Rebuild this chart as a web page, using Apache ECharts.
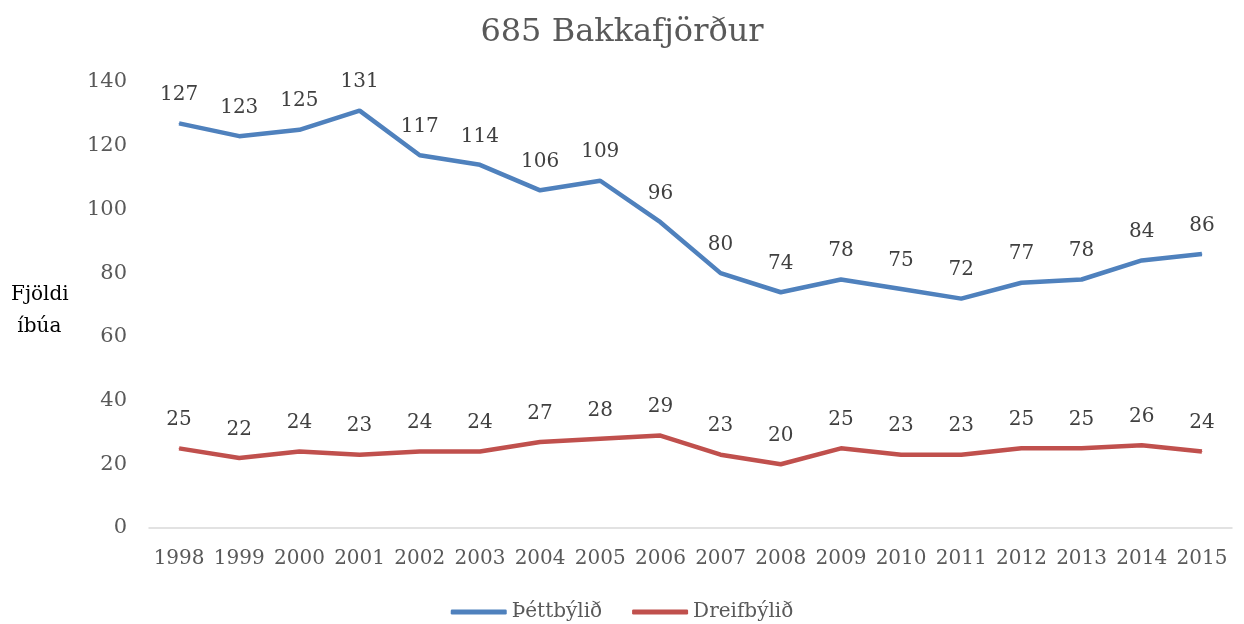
<!DOCTYPE html>
<html>
<head>
<meta charset="utf-8">
<script src="https://cdn.jsdelivr.net/npm/echarts@6/dist/echarts.min.js"></script>
<style>
  html, body { margin: 0; padding: 0; background: #fff; }
  #main { width: 1244px; height: 624px; }
</style>
</head>
<body>
<div id="main"></div>
<script>
// 年份
var years = ['1998', '1999', '2000', '2001', '2002', '2003', '2004', '2005', '2006',
    '2007', '2008', '2009', '2010', '2011', '2012', '2013', '2014', '2015'];
// Þéttbýlið
var thettbyli = [127, 123, 125, 131, 117, 114, 106, 109, 96, 80, 74, 78, 75, 72, 77, 78, 84, 86];
// Dreifbýlið
var dreifbyli = [25, 22, 24, 23, 24, 24, 27, 28, 29, 23, 20, 25, 23, 23, 25, 25, 26, 24];

var serif = '"DejaVu Serif", "Liberation Serif", serif';

var chart = echarts.init(document.getElementById('main'));
var option = {
    backgroundColor: '#fff',
    title: {
        text: '685 Bakkafjörður',
        left: 'center',
        top: 12,
        textStyle: {
            fontFamily: serif,
            fontWeight: 'normal',
            fontSize: 32,
            color: '#595959'
        }
    },
    graphic: [{
        type: 'text',
        left: 11,
        top: 279,
        style: {
            text: 'Fjöldi\n íbúa',
            font: '20px ' + serif,
            fill: '#000',
            lineHeight: 32
        }
    }],
    legend: {
        top: 597,
        left: 'center',
        itemWidth: 56,
        itemHeight: 5,
        itemGap: 30,
        icon: 'roundRect',
        textStyle: {
            fontFamily: serif,
            fontSize: 20,
            color: '#595959'
        },
        data: ['Þéttbýlið', 'Dreifbýlið']
    },
    grid: {
        left: 149,
        right: 12,
        top: 82,
        bottom: 96
    },
    xAxis: {
        type: 'category',
        data: years,
        boundaryGap: true,
        axisLine: { lineStyle: { color: '#d9d9d9', width: 1.5 } },
        axisTick: { show: false },
        axisLabel: {
            interval: 0,
            fontFamily: serif,
            fontSize: 20,
            color: '#595959',
            margin: 21
        }
    },
    yAxis: {
        type: 'value',
        min: 0,
        max: 140,
        interval: 20,
        splitLine: { show: false },
        axisLine: { show: false },
        axisTick: { show: false },
        axisLabel: {
            fontFamily: serif,
            fontSize: 21,
            color: '#595959',
            margin: 22
        }
    },
    series: [{
        name: 'Þéttbýlið',
        type: 'line',
        data: thettbyli,
        showSymbol: true,
        symbol: 'circle',
        symbolSize: 1,
        lineStyle: { color: '#4f81bd', width: 4.5 },
        itemStyle: { color: '#4f81bd' },
        label: {
            show: true,
            position: 'top',
            distance: 18,
            fontFamily: serif,
            fontSize: 20,
            color: '#404040'
        }
    }, {
        name: 'Dreifbýlið',
        type: 'line',
        data: dreifbyli,
        showSymbol: true,
        symbol: 'circle',
        symbolSize: 1,
        lineStyle: { color: '#c0504d', width: 4.5 },
        itemStyle: { color: '#c0504d' },
        label: {
            show: true,
            position: 'top',
            distance: 18,
            fontFamily: serif,
            fontSize: 20,
            color: '#404040'
        }
    }]
};
chart.setOption(option);
</script>
</body>
</html>
